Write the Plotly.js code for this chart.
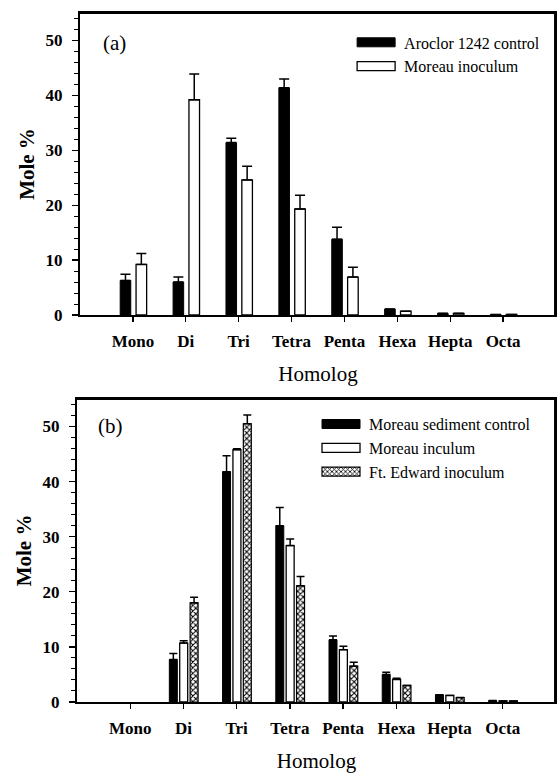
<!DOCTYPE html>
<html>
<head>
<meta charset="utf-8">
<script src="https://cdn.plot.ly/plotly-3.0.1.min.js"></script>
<style>html,body{margin:0;padding:0;background:#fff;overflow:hidden;}#chart{width:557px;height:783px;}</style>
</head>
<body>
<div id="chart"></div>
<script>
// ---- data ----
const categories = ['Mono', 'Di', 'Tri', 'Tetra', 'Penta', 'Hexa', 'Hepta', 'Octa'];

// panel (a)
const aLabels = ['Aroclor 1242 control', 'Moreau inoculum'];
const aControl = [6.3, 6.0, 31.4, 41.4, 13.8, 1.1, 0.3, 0.1];
const aControlErr = [1.1, 0.9, 0.8, 1.6, 2.2, null, null, null];
const aMoreau = [9.2, 39.2, 24.6, 19.3, 6.9, 0.7, 0.3, 0.1];
const aMoreauErr = [2.0, 4.7, 2.5, 2.5, 1.8, null, null, null];

// panel (b)
const bLabels = ['Moreau sediment control', 'Moreau inculum', 'Ft. Edward inoculum'];
const bControl = [null, 7.7, 41.8, 32.0, 11.3, 5.0, 1.3, 0.25];
const bControlErr = [null, 1.1, 2.9, 3.3, 0.7, 0.4, null, null];
const bMoreau = [null, 10.7, 45.8, 28.4, 9.5, 4.1, 1.2, 0.2];
const bMoreauErr = [null, 0.4, 0.15, 1.2, 0.6, 0.2, null, null];
const bFtEdward = [null, 18.0, 50.5, 21.1, 6.5, 3.0, 0.8, 0.2];
const bFtEdwardErr = [null, 1.0, 1.6, 1.7, 0.7, null, null, null];

const yTickVals = [0, 10, 20, 30, 40, 50];
const panelLabels = ['(a)', '(b)'];
const xTitle = 'Homolog';
const yTitle = 'Mole %';

// ---- styling ----
const SERIF = 'Liberation Serif';
const DOM_A = [0.5617, 1];
const DOM_B = [0, 0.4398];
const XDOM_A = [3 / 479, 1];

function errBar(arr, w) {
  return {type: 'data', symmetric: false, array: arr, arrayminus: arr.map(() => 0),
          color: '#000', thickness: 1.5, width: w, visible: true};
}

const traces = [
  {type: 'bar', name: aLabels[0], x: categories, y: aControl, xaxis: 'x', yaxis: 'y',
   offset: -0.24, width: 0.2, legend: 'legend',
   marker: {color: '#000', line: {color: '#000', width: 1}},
   error_y: errBar(aControlErr, 5)},
  {type: 'bar', name: aLabels[1], x: categories, y: aMoreau, xaxis: 'x', yaxis: 'y',
   offset: 0.06, width: 0.2, legend: 'legend',
   marker: {color: '#fff', line: {color: '#000', width: 1.3}},
   error_y: errBar(aMoreauErr, 5)},
  {type: 'bar', name: bLabels[0], x: categories, y: bControl, xaxis: 'x2', yaxis: 'y2',
   offset: -0.265, width: 0.15, legend: 'legend2',
   marker: {color: '#000', line: {color: '#000', width: 1}},
   error_y: errBar(bControlErr, 4)},
  {type: 'bar', name: bLabels[1], x: categories, y: bMoreau, xaxis: 'x2', yaxis: 'y2',
   offset: -0.07, width: 0.15, legend: 'legend2',
   marker: {color: '#fff', line: {color: '#000', width: 1.3}},
   error_y: errBar(bMoreauErr, 4)},
  {type: 'bar', name: bLabels[2], x: categories, y: bFtEdward, xaxis: 'x2', yaxis: 'y2',
   offset: 0.125, width: 0.15, legend: 'legend2',
   marker: {color: '#fff', line: {color: '#000', width: 1.2},
            pattern: {shape: 'x', size: 4, solidity: 0.45, fgcolor: '#000', bgcolor: '#fff'}},
   error_y: errBar(bFtEdwardErr, 4)}
];

function xAxis(domain, anchor) {
  return {
    domain: domain, anchor: anchor, type: 'category', categoryorder: 'array', categoryarray: categories,
    range: [-1, 8], showline: true, linecolor: '#000', linewidth: 2, mirror: true,
    ticks: 'outside', ticklen: 5, tickwidth: 1.3, tickcolor: '#000', showgrid: false, zeroline: false,
    ticklabelstandoff: 5,
    tickfont: {family: SERIF, size: 17, color: '#000', weight: 'bold'},
    title: {text: xTitle, standoff: 16, font: {family: SERIF, size: 21, color: '#000'}}
  };
}
function yAxis(domain, anchor) {
  return {
    domain: domain, anchor: anchor, range: [0, 55], tickvals: yTickVals,
    showline: true, linecolor: '#000', linewidth: 2, mirror: true,
    ticks: 'outside', ticklen: 6, tickwidth: 1.3, tickcolor: '#000',
    minor: {dtick: 2, tick0: 0, ticks: 'outside', ticklen: 4, tickwidth: 1, tickcolor: '#000', showgrid: false},
    showgrid: false, zeroline: false, ticklabelstandoff: 6,
    tickfont: {family: SERIF, size: 17, color: '#000', weight: 'bold'},
    title: {text: yTitle, standoff: 5, font: {family: SERIF, size: 21, color: '#000', weight: 'bold'}}
  };
}

// top and right frame edges of each panel, in paper coordinates
const edge = (x0, x1, y0, y1) => ({type: 'line', xref: 'paper', yref: 'paper', x0: x0, x1: x1, y0: y0, y1: y1,
  line: {color: '#000', width: 2}, layer: 'above'});

const legendFont = {family: SERIF, size: 16, color: '#000'};

const layout = {
  width: 557, height: 783,
  margin: {l: 77, r: 1, t: 13, b: 81},
  paper_bgcolor: '#fff', plot_bgcolor: '#fff',
  barmode: 'overlay',
  showlegend: true,
  xaxis: xAxis(XDOM_A, 'y'),
  yaxis: yAxis(DOM_A, 'x'),
  xaxis2: xAxis([0, 1], 'y2'),
  yaxis2: yAxis(DOM_B, 'x2'),
  legend: {x: 0.566, y: 0.982, xanchor: 'left', yanchor: 'top', bgcolor: 'rgba(0,0,0,0)',
           font: legendFont, itemwidth: 46, tracegroupgap: 0},
  legend2: {x: 0.4927, y: 0.428, xanchor: 'left', yanchor: 'top', bgcolor: 'rgba(0,0,0,0)',
            font: legendFont, itemwidth: 46, tracegroupgap: 0},
  shapes: [
    edge(XDOM_A[0], 0.998, DOM_A[1], DOM_A[1]),
    edge(0.998, 0.998, DOM_A[0], DOM_A[1]),
    edge(0, 0.998, DOM_B[1], DOM_B[1]),
    edge(0.998, 0.998, DOM_B[0], DOM_B[1])
  ],
  annotations: [
    {text: panelLabels[0], xref: 'paper', yref: 'paper', x: 0.0793, y: 0.9565, showarrow: false,
     xanchor: 'center', yanchor: 'middle', font: {family: SERIF, size: 21, color: '#000'}},
    {text: panelLabels[1], xref: 'paper', yref: 'paper', x: 0.0689, y: 0.4006, showarrow: false,
     xanchor: 'center', yanchor: 'middle', font: {family: SERIF, size: 21, color: '#000'}}
  ]
};

Plotly.newPlot('chart', traces, layout, {displayModeBar: false, staticPlot: true}).then(function (gd) {
  // widen the legend swatches to the flat rectangles of the original figure
  gd.querySelectorAll('.legendpoints path').forEach(function (p) {
    p.setAttribute('d', 'M19,4.5H-19V-4.5H19Z');
  });
});
</script>
</body>
</html>
